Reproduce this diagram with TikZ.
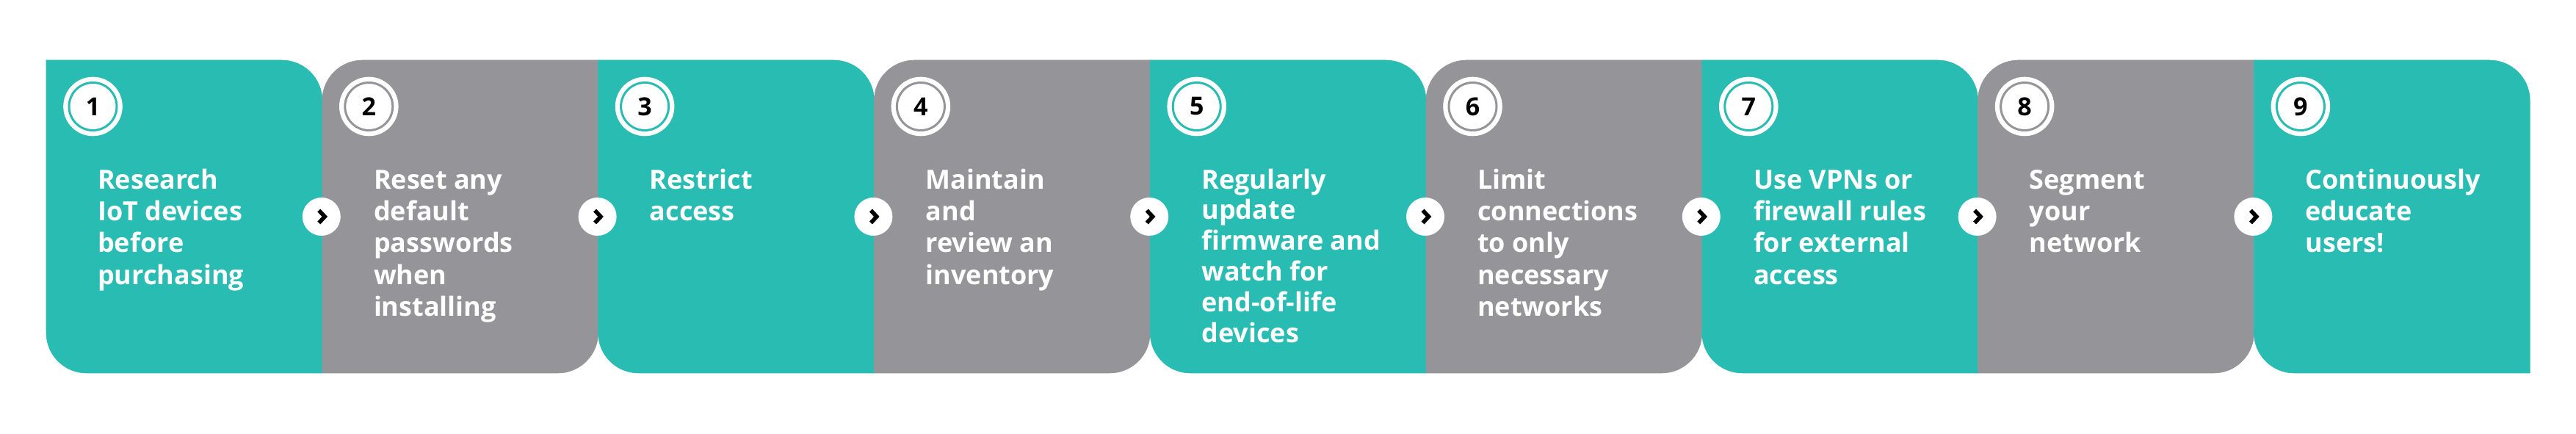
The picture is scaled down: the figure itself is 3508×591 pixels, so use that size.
\documentclass[tikz,border=0pt]{standalone}
\usepackage{fontspec}
\setmainfont{Open Sans}
\definecolor{tealc}{RGB}{40,188,178}
\definecolor{grayc}{RGB}{149,149,153}
\begin{document}
\begin{tikzpicture}[x=1pt,y=1pt,
  tealpanel/.style={fill=tealc,draw=tealc,line width=0.6pt},
  graypanel/.style={fill=grayc,draw=grayc,line width=0.6pt},
  numc/.style={circle,fill=white,minimum size=80.6pt,inner sep=0pt,
    font=\fontsize{34}{40}\selectfont\bfseries,text=black},
  chevc/.style={circle,fill=white,minimum size=52pt,inner sep=0pt},
  chev/.style={draw=black,line width=5.5pt,line join=miter,line cap=butt},
  steptext/.style={anchor=north west,inner sep=0pt,align=left,text=white}]
\useasboundingbox (0,0) rectangle (3508,591);
\fill[white] (0,0) rectangle (3508,591);
\def\pw{375.8}
% panels
\foreach \i in {1,...,9}{
  \pgfmathsetmacro\L{63+\pw*(\i-1)}
  \pgfmathsetmacro\R{\L+\pw}
  \pgfmathtruncatemacro\odd{mod(\i,2)}
  \ifnum\odd=1
    \path[tealpanel] (\L,509) -- ({\R-55},509) arc[start angle=90,end angle=0,radius=55pt]
      -- (\R,83) -- ({\L+55},83) arc[start angle=270,end angle=180,radius=55pt] -- cycle;
  \else
    \path[graypanel] (\L,83) -- (\L,{509-55}) arc[start angle=180,end angle=90,radius=55pt]
      -- (\R,509) -- (\R,{83+55}) arc[start angle=0,end angle=-90,radius=55pt] -- cycle;
  \fi
}
% number circles and texts
\foreach \i/\bs/\txt in {
  1/43.3/{Research\\IoT devices\\before\\purchasing},
  2/43.3/{Reset any\\default\\passwords\\when\\installing},
  3/43.3/{Restrict\\access},
  4/43.3/{Maintain\\and\\review an\\inventory},
  5/41.8/{Regularly\\update\\firmware and\\watch for\\end-of-life\\devices},
  6/43.3/{Limit\\connections\\to only\\necessary\\networks},
  7/43.3/{Use VPNs or\\firewall rules\\for external\\access},
  8/43.3/{Segment\\your\\network},
  9/43.3/{Continuously\\educate\\users!}}{
  \pgfmathsetmacro\L{63+\pw*(\i-1)}
  \pgfmathtruncatemacro\odd{mod(\i,2)}
  \ifnum\odd=1 \def\rc{tealc}\else\def\rc{grayc}\fi
  \node[numc] (n\i) at ({\L+63.5},446) {\i};
  \draw[\rc,line width=3pt] (n\i.center) circle (32.5pt);
  \node[steptext,font=\fontsize{36pt}{\bs pt}\selectfont\bfseries] (t\i)
    at ({\L+70},364) {\rule{0pt}{30pt}\txt};
}
% chevron circles between panels
\foreach \i in {1,...,8}{
  \pgfmathsetmacro\R{63+\pw*\i}
  \node[chevc] (c\i) at ({\R-1},296) {};
  \draw[chev] ([shift={(-3.5,8.5)}]c\i.center) -- ([shift={(4.5,0)}]c\i.center)
    -- ([shift={(-3.5,-8.5)}]c\i.center);
}
\end{tikzpicture}
\end{document}
